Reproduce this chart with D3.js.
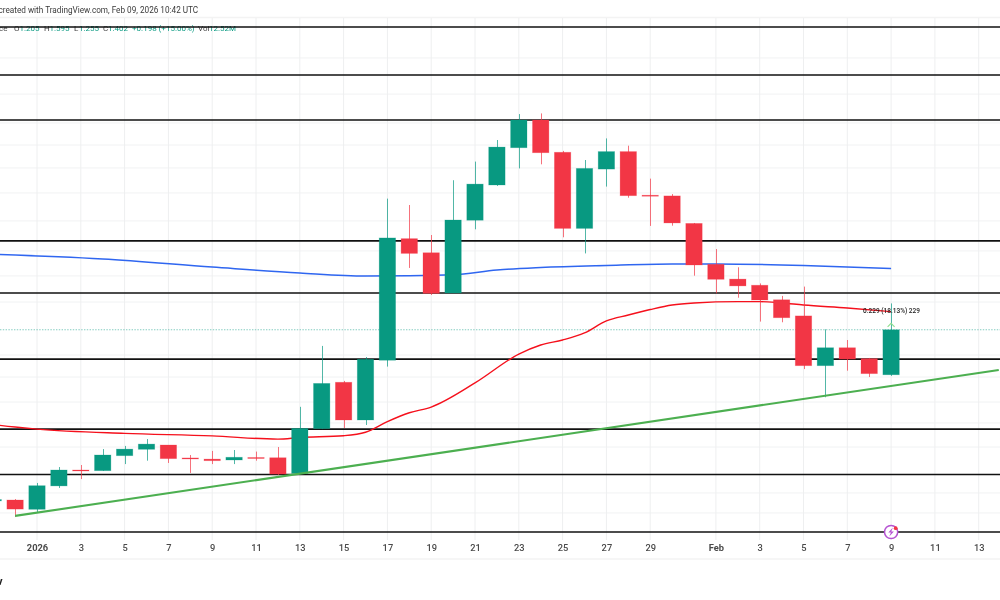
<!DOCTYPE html>
<html><head><meta charset="utf-8">
<script src="https://cdn.jsdelivr.net/npm/d3@7"></script>
<style>
html,body{margin:0;padding:0;background:#fff;overflow:hidden}
svg{display:block;filter:blur(0.3px)}
text{font-family:Roboto,"Liberation Sans",sans-serif}
.domain{display:none}
</style></head><body>
<svg id="c" width="1000" height="600"></svg>
<script>
const dates=["2025-12-30","2025-12-31","2026-01-01","2026-01-02","2026-01-03","2026-01-04","2026-01-05","2026-01-06","2026-01-07","2026-01-08","2026-01-09","2026-01-10","2026-01-11","2026-01-12","2026-01-13","2026-01-14","2026-01-15","2026-01-16","2026-01-17","2026-01-18","2026-01-19","2026-01-20","2026-01-21","2026-01-22","2026-01-23","2026-01-24","2026-01-25","2026-01-26","2026-01-27","2026-01-28","2026-01-29","2026-01-30","2026-01-31","2026-02-01","2026-02-02","2026-02-03","2026-02-04","2026-02-05","2026-02-06","2026-02-07","2026-02-08","2026-02-09"];
const opens=[0.650,0.654,0.613,0.716,0.786,0.783,0.849,0.877,0.896,0.839,0.834,0.830,0.841,0.840,0.771,0.968,1.172,1.006,1.269,1.804,1.742,1.565,1.885,2.040,2.204,2.326,2.184,1.849,2.110,2.187,1.995,1.992,1.871,1.691,1.626,1.599,1.535,1.464,1.245,1.324,1.276,1.205];
const highs=[0.663,0.658,0.729,0.799,0.808,0.878,0.892,0.922,0.896,0.852,0.870,0.874,0.867,0.887,1.064,1.332,1.178,1.283,1.980,1.952,1.820,2.061,2.143,2.238,2.352,2.355,2.190,2.150,2.245,2.213,2.068,2.000,1.873,1.758,1.678,1.607,1.552,1.593,1.405,1.358,1.279,1.519];
const lows=[0.641,0.579,0.597,0.707,0.746,0.782,0.812,0.827,0.817,0.773,0.812,0.812,0.827,0.764,0.768,0.966,0.971,0.984,1.241,1.675,1.556,1.565,1.845,2.036,2.113,2.131,1.810,1.739,2.033,1.984,1.860,1.861,1.641,1.563,1.544,1.439,1.436,1.230,1.106,1.223,1.195,1.200];
const closes=[0.656,0.614,0.717,0.786,0.783,0.852,0.878,0.900,0.836,0.836,0.827,0.842,0.838,0.768,0.969,1.167,1.006,1.273,1.807,1.739,1.563,1.886,2.044,2.207,2.326,2.182,1.849,2.113,2.187,1.993,1.993,1.873,1.688,1.625,1.596,1.534,1.456,1.245,1.324,1.274,1.210,1.403];
const levels=[2.735,2.524,2.326,1.794,1.565,1.274,0.966,0.766,0.513];
const gridPrices=[2.599,2.440,2.313,2.216,2.115,2.005,1.882,1.750,1.640,1.525,1.292,1.195,1.085,0.993,0.887,0.685,0.597];
const tickDates=["2026-01-01","2026-01-03","2026-01-05","2026-01-07","2026-01-09","2026-01-11","2026-01-13","2026-01-15","2026-01-17","2026-01-19","2026-01-21","2026-01-23","2026-01-25","2026-01-27","2026-01-29","2026-02-01","2026-02-03","2026-02-05","2026-02-07","2026-02-09","2026-02-11","2026-02-13"];
const tickLabels=["2026","3","5","7","9","11","13","15","17","19","21","23","25","27","29","Feb","3","5","7","9","11","13"];
const blueDates=["2025-12-28","2026-01-04","2026-01-09","2026-01-13","2026-01-16","2026-01-18","2026-01-20","2026-01-22","2026-01-24","2026-01-27","2026-01-30","2026-02-01","2026-02-05","2026-02-09"];
const bluePrices=[1.741,1.714,1.679,1.653,1.640,1.641,1.645,1.666,1.677,1.686,1.692,1.692,1.686,1.673];
const redDates=["2025-12-28","2025-12-31","2026-01-01","2026-01-05","2026-01-09","2026-01-12","2026-01-13","2026-01-15","2026-01-16","2026-01-17","2026-01-18","2026-01-19","2026-01-21","2026-01-23","2026-01-24","2026-01-25","2026-01-26","2026-01-27","2026-01-28","2026-01-29","2026-01-30","2026-01-31","2026-02-02","2026-02-03","2026-02-04","2026-02-05","2026-02-07","2026-02-09"];
const redPrices=[1.010,0.975,0.966,0.947,0.936,0.922,0.929,0.937,0.952,0.999,1.038,1.063,1.169,1.296,1.336,1.358,1.389,1.442,1.468,1.492,1.512,1.521,1.527,1.527,1.521,1.512,1.499,1.483];
const trendDates=["2025-12-31","2026-02-13T22:00:00Z"];
const trendPrices=[0.584,1.226];
const lastClose=1.403;
const titleText="created with TradingView.com, Feb 09, 2026 10:42 UTC";
const legendParts=["ce","O","1.205","H","1.595","L","1.255","C","1.402","+0.198 (+15.00%)","Vol","12.52M"];
const legendIsValue=[false,false,true,false,true,false,true,false,true,true,false,true];
const measureLabel="0.229 (18.13%) 229";

const UP="#089981",DOWN="#F23645";
const parse=s=>new Date(s.length>10?s:s+"T00:00:00Z");
const x=d3.scaleUtc().domain([parse("2026-01-01"),parse("2026-02-10")]).range([37,913]);
const y=d3.scaleLinear().domain([2.854,0.214]).range([0,600]);
const svg=d3.select("#c");
const W=1000;

// faint frame bands
svg.selectAll("line.band").data([17.5,559]).join("line").attr("class","band")
  .attr("x1",0).attr("x2",W).attr("y1",d=>d).attr("y2",d=>d).attr("stroke","#f3f3f3").attr("stroke-width",1.5);

// grid
svg.append("g").selectAll("line").data(gridPrices).join("line")
  .attr("x1",0).attr("x2",W).attr("y1",d=>y(d)).attr("y2",d=>y(d)).attr("stroke","#f1f2f3");
svg.append("g").selectAll("line").data(tickDates).join("line")
  .attr("x1",d=>x(parse(d))).attr("x2",d=>x(parse(d))).attr("y1",18).attr("y2",540).attr("stroke","#eeeff0");

// header
svg.append("text").attr("x",-1.5).attr("y",12.8).attr("font-size",8.2).attr("fill","#3a3a3a").text(titleText);
const legendX=[-1,14,19.5,44,49.5,74,79,103,108,132,198,209];
svg.append("g").selectAll("text").data(legendParts).join("text")
  .attr("x",(d,i)=>legendX[i]).attr("y",30.8).attr("font-size",8)
  .attr("fill",(d,i)=>legendIsValue[i]?UP:"#444").text(d=>d);

// levels
svg.append("g").selectAll("line").data(levels).join("line")
  .attr("x1",0).attr("x2",W).attr("y1",d=>y(d)).attr("y2",d=>y(d)).attr("stroke","#111").attr("stroke-width",1.6);

// last price dotted
svg.append("line").attr("x1",0).attr("x2",W).attr("y1",y(lastClose)).attr("y2",y(lastClose))
  .attr("stroke",UP).attr("stroke-opacity",.5).attr("stroke-width",1.2).attr("stroke-dasharray","1.4 1.4");

// moving averages
const line=d3.line().x(d=>x(parse(d[0]))).y(d=>y(d[1])).curve(d3.curveMonotoneX);
svg.append("path").datum(d3.zip(blueDates,bluePrices)).attr("d",line).attr("fill","none").attr("stroke","#2F66F0").attr("stroke-width",1.5);
svg.append("path").datum(d3.zip(redDates,redPrices)).attr("d",line).attr("fill","none").attr("stroke","#F5101C").attr("stroke-width",1.4);

// candles
const candles=dates.map((d,i)=>({d:parse(d),o:opens[i],h:highs[i],l:lows[i],c:closes[i]}));
const col=d=>d.c>=d.o?UP:DOWN;
const bw=16.4;
const g=svg.append("g");
g.selectAll("line").data(candles).join("line")
  .attr("x1",d=>Math.round(x(d.d))+.5).attr("x2",d=>Math.round(x(d.d))+.5)
  .attr("y1",d=>y(d.h)).attr("y2",d=>y(d.l)).attr("stroke",col).attr("stroke-opacity",.7);
g.selectAll("rect").data(candles).join("rect")
  .attr("x",d=>x(d.d)-bw/2).attr("width",bw)
  .attr("y",d=>y(Math.max(d.o,d.c))).attr("height",d=>Math.max(1,Math.abs(y(d.o)-y(d.c))))
  .attr("fill",col).attr("stroke",col).attr("stroke-opacity",.3).attr("stroke-width",.8);

// trend line
svg.append("path").datum(d3.zip(trendDates,trendPrices)).attr("d",line).attr("fill","none").attr("stroke","#4CAF50").attr("stroke-width",2.1);

// label and chevron at last bar
const lastX=x(parse("2026-02-09"));
svg.append("text").attr("x",lastX-28).attr("y",312.5).attr("font-size",6.5).attr("font-weight",500).attr("fill","#222").text(measureLabel);
svg.append("path").attr("d",`M${lastX-3.5},${y(lastClose)-3}L${lastX},${y(lastClose)-6.5}L${lastX+3.5},${y(lastClose)-3}`)
  .attr("fill","none").attr("stroke","#8fe08f").attr("stroke-width",1.1);

// bolt icon
const ic=svg.append("g").attr("transform",`translate(${lastX},532)`);
ic.append("circle").attr("r",6.6).attr("fill","#fff").attr("stroke","#B553D2").attr("stroke-width",1.5);
ic.append("path").attr("d","M1.8,-4.4L-2.8,0.6H-0.2L-1.8,4.4L2.8,-0.6H0.2Z").attr("fill","#B553D2");
ic.append("circle").attr("cx",4.6).attr("cy",-3.8).attr("r",1.9).attr("fill","#F23645");

// axis
const axis=d3.axisBottom(x).tickValues(tickDates.map(parse)).tickSize(0).tickPadding(0)
  .tickFormat((d,i)=>tickLabels[i]);
const ax=svg.append("g").attr("transform","translate(0,544)").call(axis);
ax.selectAll("text").attr("font-size",9.3).attr("fill","#4a4a4a").attr("font-family","Roboto")
  .attr("font-weight",(d,i)=>(tickLabels[i]==="2026"||tickLabels[i]==="Feb")?700:500);

// clipped footer glyph
svg.append("text").attr("x",-3).attr("y",585).attr("font-size",11).attr("font-weight",700).attr("fill","#222").text("v");
</script>
</body></html>
